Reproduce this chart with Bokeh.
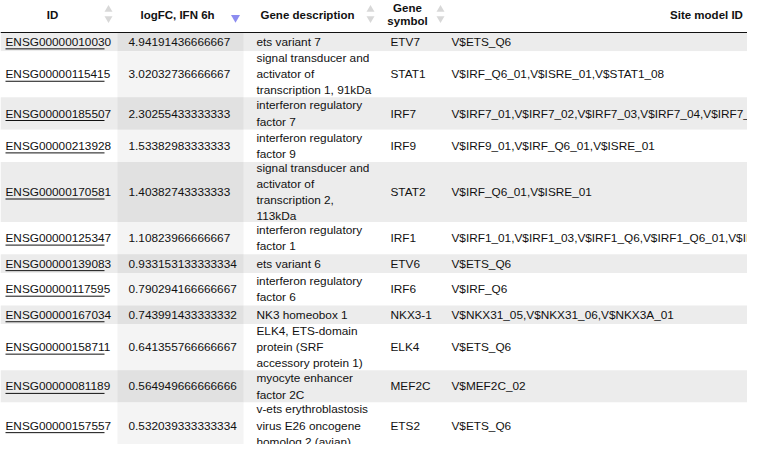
from bokeh.plotting import figure
from bokeh.models import ColumnDataSource, Range1d
from bokeh.core.properties import value
from bokeh.embed import file_html
from bokeh.resources import INLINE

ids = ["ENSG00000010030", "ENSG00000115415", "ENSG00000185507", "ENSG00000213928",
       "ENSG00000170581", "ENSG00000125347", "ENSG00000139083", "ENSG00000117595",
       "ENSG00000167034", "ENSG00000158711", "ENSG00000081189", "ENSG00000157557"]
logfc = ["4.94191436666667", "3.02032736666667", "2.30255433333333", "1.53382983333333",
         "1.40382743333333", "1.10823966666667", "0.933153133333334", "0.790294166666667",
         "0.743991433333332", "0.641355766666667", "0.564949666666666", "0.532039333333334"]
descriptions = ["ets variant 7",
                "signal transducer and\nactivator of\ntranscription 1, 91kDa",
                "interferon regulatory\nfactor 7",
                "interferon regulatory\nfactor 9",
                "signal transducer and\nactivator of\ntranscription 2,\n113kDa",
                "interferon regulatory\nfactor 1",
                "ets variant 6",
                "interferon regulatory\nfactor 6",
                "NK3 homeobox 1",
                "ELK4, ETS-domain\nprotein (SRF\naccessory protein 1)",
                "myocyte enhancer\nfactor 2C",
                "v-ets erythroblastosis\nvirus E26 oncogene\nhomolog 2 (avian)"]
symbols = ["ETV7", "STAT1", "IRF7", "IRF9", "STAT2", "IRF1", "ETV6", "IRF6",
           "NKX3-1", "ELK4", "MEF2C", "ETS2"]
sites = ["V$ETS_Q6",
         "V$IRF_Q6_01,V$ISRE_01,V$STAT1_08",
         "V$IRF7_01,V$IRF7_02,V$IRF7_03,V$IRF7_04,V$IRF7_Q3,V$IRF_Q6_01",
         "V$IRF9_01,V$IRF_Q6_01,V$ISRE_01",
         "V$IRF_Q6_01,V$ISRE_01",
         "V$IRF1_01,V$IRF1_03,V$IRF1_Q6,V$IRF1_Q6_01,V$IRF_Q6_01",
         "V$ETS_Q6",
         "V$IRF_Q6",
         "V$NKX31_05,V$NKX31_06,V$NKX3A_01",
         "V$ETS_Q6",
         "V$MEF2C_02",
         "V$ETS_Q6"]

W, H = 747, 444
HEADER = 32
LINE = 13.7
PAD = 5
FONT = value("Liberation Sans")

col_left = [0, 117, 243, 385, 445]
col_right = [117, 243, 385, 445, W]

# row heights from the number of lines in each description
tops, bottoms, y = [], [], HEADER
for d in descriptions:
    n = d.count("\n") + 1
    h = PAD + LINE * n
    tops.append(y)
    bottoms.append(y + h)
    y += h
mids = [(t + b) / 2 for t, b in zip(tops, bottoms)]

p = figure(width=W, height=H, x_range=Range1d(0, W), y_range=Range1d(H, 0),
           output_backend="svg", toolbar_location=None, min_border=0)
p.xaxis.visible = False
p.yaxis.visible = False
p.grid.visible = False
p.outline_line_color = None

row_fill = ["#ececec" if i % 2 == 0 else "#ffffff" for i in range(len(ids))]
sort_fill = ["#e1e1e1" if i % 2 == 0 else "#f4f4f4" for i in range(len(ids))]

p.quad(left=0, right=W, top=tops, bottom=bottoms, fill_color=row_fill, line_color=None)
p.quad(left=col_left[1], right=col_right[1], top=tops, bottom=bottoms,
       fill_color=sort_fill, line_color=None)

# header
p.segment(x0=0, x1=W, y0=HEADER, y1=HEADER, line_color="#111111", line_width=1)
hdr = ColumnDataSource(dict(x=[52, 177, 307, 407, 706],
                            y=[14, 14, 14, 14, 14],
                            t=["ID", "logFC, IFN 6h", "Gene description", "Gene\nsymbol", "Site model ID"]))
p.text(x="x", y="y", text="t", source=hdr, text_font=FONT, text_font_style="bold",
       text_font_size="11.5px", text_align="center", text_baseline="middle",
       text_line_height=1.15, text_color="#111111")
p.scatter(x=[108, 370, 440], y=[9, 9, 9], marker="triangle", size=8,
          fill_color="#d8d8d8", line_color=None)
p.scatter(x=[108, 370, 440], y=[18, 18, 18], marker="inverted_triangle", size=8,
          fill_color="#d8d8d8", line_color=None)
p.scatter(x=[235], y=[17], marker="inverted_triangle", size=9,
          fill_color="#8c8cf0", line_color=None)

src = ColumnDataSource(dict(ids=ids, fc=logfc, desc=descriptions, sym=symbols,
                            site=sites, y=mids))
common = dict(source=src, text_font=FONT, text_font_size="11.8px", text_baseline="middle",
              text_color="#111111", text_line_height=1.16)
p.text(x=5, y="y", text="ids", **common)
p.text(x=128, y="y", text="fc", **common)
p.text(x=256, y="y", text="desc", **common)
p.text(x=390, y="y", text="sym", **common)
p.text(x=451, y="y", text="site", **common)
p.segment(x0=5, x1=104, y0=[m + 7 for m in mids], y1=[m + 7 for m in mids],
          line_color="#111111", line_width=1)

open("out.html", "w").write(file_html(p, INLINE))
